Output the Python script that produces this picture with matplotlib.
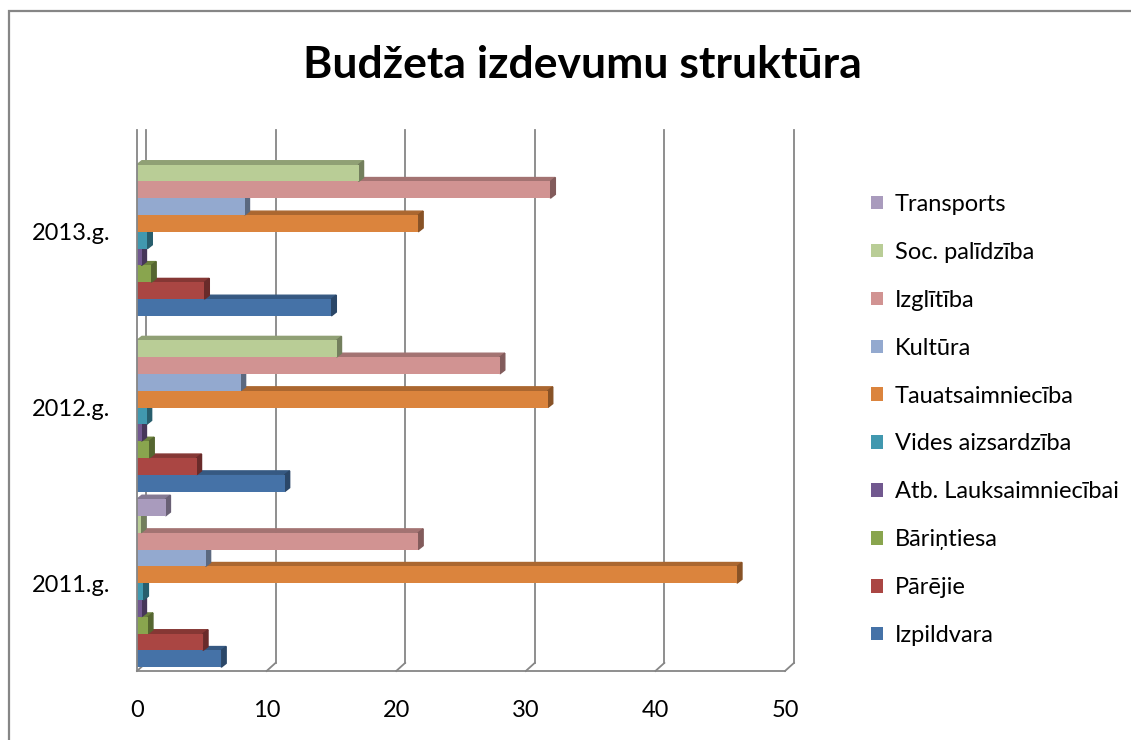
import numpy as np
import matplotlib.pyplot as plt
from matplotlib.patches import Polygon, Rectangle
from matplotlib import colors as mcolors

plt.rcParams['font.family'] = ['Lato', 'DejaVu Sans']

# Categories (bottom to top)
years = ['2011.g.', '2012.g.', '2013.g.']

# Series, in drawing order (bottom of each group to top)
names = ['Izpildvara', 'Pārējie', 'Bāriņtiesa', 'Atb. Lauksaimniecībai',
         'Vides aizsardzība', 'Tauatsaimniecība', 'Kultūra', 'Izglītība',
         'Soc. palīdzība', 'Transports']

# Values per series for 2011, 2012, 2013
izpildvara = [6.5, 11.4, 15.0]
parejie = [5.1, 4.6, 5.2]
barintiesa = [0.85, 0.95, 1.1]
atb_lauks = [0.35, 0.35, 0.35]
vides = [0.5, 0.75, 0.8]
tauats = [46.3, 31.7, 21.7]
kultura = [5.3, 8.0, 8.3]
izglitiba = [21.7, 28.0, 31.9]
soc_pal = [0.3, 15.4, 17.1]
transports = [2.2, 0, 0]

values = [izpildvara, parejie, barintiesa, atb_lauks, vides, tauats,
          kultura, izglitiba, soc_pal, transports]

colors = ['#4572A7', '#AA4643', '#89A54E', '#71588F', '#4198AF',
          '#DB843D', '#93A9CF', '#D19392', '#B9CD96', '#A99BBD']

xticks = [0, 10, 20, 30, 40, 50]


def shade(c, f):
    r, g, b = mcolors.to_rgb(c)
    return (r * f, g * f, b * f)


fig = plt.figure(figsize=(11.31, 7.40), dpi=100)
ax = fig.add_axes([137 / 1131, 69 / 740, 648 / 1131, 527 / 740])

n = len(names)
pitch = 0.0957
dx, dy = 0.38, 0.022
y = np.arange(len(years))

for k in range(n):
    ypos = y + (k - (n - 1) / 2) * pitch
    ax.barh(ypos, values[k], height=pitch, color=colors[k], edgecolor='none',
            zorder=3 + 3 * k, label=names[k])
    for yy, v in zip(ypos, values[k]):
        if v <= 0:
            continue
        top, bot = yy + pitch / 2, yy - pitch / 2
        ax.add_patch(Polygon([(0, top), (v, top), (v + dx, top + dy), (dx, top + dy)],
                             closed=True, color=shade(colors[k], 0.78), zorder=2 + 3 * k))
        ax.add_patch(Polygon([(v, bot), (v, top), (v + dx, top + dy), (v + dx, bot + dy)],
                             closed=True, color=shade(colors[k], 0.62), zorder=2 + 3 * k))

# back-wall gridlines and floor
gdx, gdy = 0.69, 0.046
ybot, ytop = -0.5, 2.58
gc = '#868686'
for v in xticks:
    ax.plot([v + gdx, v + gdx], [ybot + gdy, ytop], color=gc, lw=1.3, zorder=1, clip_on=False)
    ax.plot([v, v + gdx], [ybot, ybot + gdy], color=gc, lw=1.3, zorder=1, clip_on=False)
ax.plot([0, 50], [ybot, ybot], color=gc, lw=1.3, zorder=1, clip_on=False)
ax.plot([0, 0], [ybot, ytop], color=gc, lw=1.3, zorder=40, clip_on=False)

ax.set_xlim(0, 50)
ax.set_ylim(-0.5, 2.5)
ax.set_xticks(xticks)
ax.set_yticks(y)
ax.set_yticklabels(years)
ax.tick_params(axis='x', length=0, pad=21, labelsize=17)
ax.tick_params(axis='y', length=0, pad=19, labelsize=17)
for s in ax.spines.values():
    s.set_visible(False)
ax.patch.set_visible(False)

handles, labels = ax.get_legend_handles_labels()
fig.legend(handles[::-1], labels[::-1], loc='center left',
           bbox_to_anchor=(850 / 1131, 1 - 420 / 740), frameon=False,
           fontsize=17, labelspacing=1.14, handlelength=0.5, handleheight=0.5,
           handletextpad=0.5)

fig.text(582 / 1131, 1 - 65 / 740, 'Budžeta izdevumu struktūra',
         fontsize=32, fontweight='bold', ha='center', va='center')

fig.patches.append(Rectangle((9 / 1131, -0.05), 1.2, 1.05 - 11 / 740,
                             transform=fig.transFigure, fill=False,
                             edgecolor=gc, lw=1.6))

fig.savefig('out.png', dpi=100)
